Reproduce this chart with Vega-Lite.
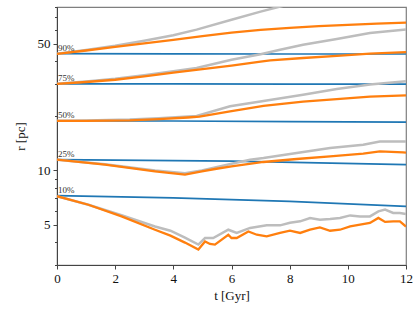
{
  "$schema": "https://vega.github.io/schema/vega-lite/v6.json",
  "width": 349,
  "height": 258,
  "autosize": {"type": "none"},
  "padding": {"left": 57, "top": 7, "right": 10, "bottom": 47},
  "background": "white",
  "config": {
    "view": {"stroke": "#7f7f7f", "strokeWidth": 1.2},
    "font": "Liberation Serif",
    "axis": {
      "labelFont": "Liberation Serif",
      "titleFont": "Liberation Serif",
      "labelFontSize": 13,
      "titleFontSize": 13,
      "titleFontWeight": "normal",
      "labelColor": "#111",
      "titleColor": "#111",
      "domainColor": "#444",
      "tickColor": "#444",
      "grid": false
    }
  },
  "data": {
    "values": [
      {"s": "blue", "p": "90", "t": 0, "r": 44.2}, {"s": "blue", "p": "90", "t": 4, "r": 44.1}, {"s": "blue", "p": "90", "t": 8, "r": 44.0}, {"s": "blue", "p": "90", "t": 12, "r": 44.0},
      {"s": "blue", "p": "75", "t": 0, "r": 30.1}, {"s": "blue", "p": "75", "t": 4, "r": 30.1}, {"s": "blue", "p": "75", "t": 8, "r": 30.0}, {"s": "blue", "p": "75", "t": 12, "r": 30.0},
      {"s": "blue", "p": "50", "t": 0, "r": 18.8}, {"s": "blue", "p": "50", "t": 4, "r": 18.75}, {"s": "blue", "p": "50", "t": 8, "r": 18.6}, {"s": "blue", "p": "50", "t": 12, "r": 18.5},
      {"s": "blue", "p": "25", "t": 0, "r": 11.46}, {"s": "blue", "p": "25", "t": 6, "r": 11.24}, {"s": "blue", "p": "25", "t": 12, "r": 10.75},
      {"s": "blue", "p": "10", "t": 0, "r": 7.25}, {"s": "blue", "p": "10", "t": 4, "r": 7.04}, {"s": "blue", "p": "10", "t": 8, "r": 6.74}, {"s": "blue", "p": "10", "t": 12, "r": 6.33},

      {"s": "gray", "p": "90", "t": 0, "r": 44.1}, {"s": "gray", "p": "90", "t": 1, "r": 46.3}, {"s": "gray", "p": "90", "t": 2, "r": 48.9}, {"s": "gray", "p": "90", "t": 3, "r": 52.1}, {"s": "gray", "p": "90", "t": 4, "r": 55.8}, {"s": "gray", "p": "90", "t": 4.8, "r": 60.0}, {"s": "gray", "p": "90", "t": 6, "r": 68}, {"s": "gray", "p": "90", "t": 7, "r": 75.4}, {"s": "gray", "p": "90", "t": 8, "r": 83}, {"s": "gray", "p": "90", "t": 9, "r": 90}, {"s": "gray", "p": "90", "t": 10, "r": 97}, {"s": "gray", "p": "90", "t": 11, "r": 104}, {"s": "gray", "p": "90", "t": 12, "r": 111},
      {"s": "gray", "p": "75", "t": 0, "r": 30.1}, {"s": "gray", "p": "75", "t": 1, "r": 31.0}, {"s": "gray", "p": "75", "t": 2, "r": 32.1}, {"s": "gray", "p": "75", "t": 2.5, "r": 32.8}, {"s": "gray", "p": "75", "t": 3, "r": 33.6}, {"s": "gray", "p": "75", "t": 4, "r": 35.3}, {"s": "gray", "p": "75", "t": 4.8, "r": 36.8}, {"s": "gray", "p": "75", "t": 6, "r": 40.9}, {"s": "gray", "p": "75", "t": 7, "r": 43.8}, {"s": "gray", "p": "75", "t": 7.67, "r": 46.4}, {"s": "gray", "p": "75", "t": 8.46, "r": 49.5}, {"s": "gray", "p": "75", "t": 9.62, "r": 53.2}, {"s": "gray", "p": "75", "t": 10.76, "r": 57.4}, {"s": "gray", "p": "75", "t": 12, "r": 60.0},
      {"s": "gray", "p": "50", "t": 0, "r": 18.8}, {"s": "gray", "p": "50", "t": 1, "r": 18.9}, {"s": "gray", "p": "50", "t": 2.5, "r": 19.1}, {"s": "gray", "p": "50", "t": 3.5, "r": 19.4}, {"s": "gray", "p": "50", "t": 4.8, "r": 20.0}, {"s": "gray", "p": "50", "t": 5.95, "r": 22.6}, {"s": "gray", "p": "50", "t": 7.1, "r": 24.2}, {"s": "gray", "p": "50", "t": 8.46, "r": 26.2}, {"s": "gray", "p": "50", "t": 9.62, "r": 28.2}, {"s": "gray", "p": "50", "t": 10.76, "r": 29.8}, {"s": "gray", "p": "50", "t": 12, "r": 31.1},
      {"s": "gray", "p": "25", "t": 0, "r": 11.46}, {"s": "gray", "p": "25", "t": 1.65, "r": 10.82}, {"s": "gray", "p": "25", "t": 3.37, "r": 10.0}, {"s": "gray", "p": "25", "t": 4.4, "r": 9.65}, {"s": "gray", "p": "25", "t": 4.98, "r": 10.0}, {"s": "gray", "p": "25", "t": 6.12, "r": 10.99}, {"s": "gray", "p": "25", "t": 6.64, "r": 11.46}, {"s": "gray", "p": "25", "t": 7.1, "r": 11.71}, {"s": "gray", "p": "25", "t": 8.24, "r": 12.48}, {"s": "gray", "p": "25", "t": 9.39, "r": 13.3}, {"s": "gray", "p": "25", "t": 10.53, "r": 13.87}, {"s": "gray", "p": "25", "t": 11.1, "r": 14.46}, {"s": "gray", "p": "25", "t": 12, "r": 14.46},
      {"s": "gray", "p": "10", "t": 0, "r": 7.2}, {"s": "gray", "p": "10", "t": 1.08, "r": 6.46}, {"s": "gray", "p": "10", "t": 2.22, "r": 5.65}, {"s": "gray", "p": "10", "t": 3.37, "r": 4.9}, {"s": "gray", "p": "10", "t": 3.9, "r": 4.64}, {"s": "gray", "p": "10", "t": 4.4, "r": 4.25}, {"s": "gray", "p": "10", "t": 4.86, "r": 3.89}, {"s": "gray", "p": "10", "t": 5.09, "r": 4.23}, {"s": "gray", "p": "10", "t": 5.37, "r": 4.23}, {"s": "gray", "p": "10", "t": 5.89, "r": 4.7}, {"s": "gray", "p": "10", "t": 6.18, "r": 4.51}, {"s": "gray", "p": "10", "t": 6.64, "r": 4.81}, {"s": "gray", "p": "10", "t": 7.21, "r": 4.97}, {"s": "gray", "p": "10", "t": 7.67, "r": 4.97}, {"s": "gray", "p": "10", "t": 8.01, "r": 5.14}, {"s": "gray", "p": "10", "t": 8.36, "r": 5.23}, {"s": "gray", "p": "10", "t": 8.7, "r": 5.46}, {"s": "gray", "p": "10", "t": 9.04, "r": 5.34}, {"s": "gray", "p": "10", "t": 9.39, "r": 5.39}, {"s": "gray", "p": "10", "t": 9.73, "r": 5.46}, {"s": "gray", "p": "10", "t": 10.08, "r": 5.64}, {"s": "gray", "p": "10", "t": 10.42, "r": 5.57}, {"s": "gray", "p": "10", "t": 10.76, "r": 5.57}, {"s": "gray", "p": "10", "t": 11.05, "r": 5.94}, {"s": "gray", "p": "10", "t": 11.28, "r": 6.07}, {"s": "gray", "p": "10", "t": 11.56, "r": 5.82}, {"s": "gray", "p": "10", "t": 11.79, "r": 5.82}, {"s": "gray", "p": "10", "t": 12, "r": 5.74},

      {"s": "orange", "p": "90", "t": 0, "r": 44.1}, {"s": "orange", "p": "90", "t": 1, "r": 46.0}, {"s": "orange", "p": "90", "t": 2, "r": 48.2}, {"s": "orange", "p": "90", "t": 3, "r": 50.4}, {"s": "orange", "p": "90", "t": 4, "r": 52.7}, {"s": "orange", "p": "90", "t": 5, "r": 55.2}, {"s": "orange", "p": "90", "t": 6, "r": 57.7}, {"s": "orange", "p": "90", "t": 7, "r": 59.8}, {"s": "orange", "p": "90", "t": 8, "r": 61.4}, {"s": "orange", "p": "90", "t": 9, "r": 62.7}, {"s": "orange", "p": "90", "t": 10, "r": 63.8}, {"s": "orange", "p": "90", "t": 11, "r": 64.8}, {"s": "orange", "p": "90", "t": 12, "r": 65.5},
      {"s": "orange", "p": "75", "t": 0, "r": 30.1}, {"s": "orange", "p": "75", "t": 1, "r": 30.8}, {"s": "orange", "p": "75", "t": 2, "r": 31.7}, {"s": "orange", "p": "75", "t": 3, "r": 33.1}, {"s": "orange", "p": "75", "t": 4, "r": 34.7}, {"s": "orange", "p": "75", "t": 5, "r": 36.3}, {"s": "orange", "p": "75", "t": 6, "r": 37.9}, {"s": "orange", "p": "75", "t": 7, "r": 39.9}, {"s": "orange", "p": "75", "t": 7.33, "r": 40.6}, {"s": "orange", "p": "75", "t": 8.46, "r": 41.8}, {"s": "orange", "p": "75", "t": 9.62, "r": 43.0}, {"s": "orange", "p": "75", "t": 10.76, "r": 44.2}, {"s": "orange", "p": "75", "t": 12, "r": 45.1},
      {"s": "orange", "p": "50", "t": 0, "r": 18.8}, {"s": "orange", "p": "50", "t": 1, "r": 18.8}, {"s": "orange", "p": "50", "t": 2.5, "r": 18.9}, {"s": "orange", "p": "50", "t": 3.5, "r": 19.2}, {"s": "orange", "p": "50", "t": 4.5, "r": 19.6}, {"s": "orange", "p": "50", "t": 4.9, "r": 19.8}, {"s": "orange", "p": "50", "t": 5.95, "r": 21.2}, {"s": "orange", "p": "50", "t": 7.1, "r": 22.7}, {"s": "orange", "p": "50", "t": 8.46, "r": 24.0}, {"s": "orange", "p": "50", "t": 9.62, "r": 24.8}, {"s": "orange", "p": "50", "t": 10.76, "r": 25.6}, {"s": "orange", "p": "50", "t": 12, "r": 26.0},
      {"s": "orange", "p": "25", "t": 0, "r": 11.46}, {"s": "orange", "p": "25", "t": 1.65, "r": 10.75}, {"s": "orange", "p": "25", "t": 3.37, "r": 9.88}, {"s": "orange", "p": "25", "t": 4.4, "r": 9.47}, {"s": "orange", "p": "25", "t": 4.98, "r": 9.88}, {"s": "orange", "p": "25", "t": 5.43, "r": 10.18}, {"s": "orange", "p": "25", "t": 6.0, "r": 10.52}, {"s": "orange", "p": "25", "t": 7.1, "r": 11.13}, {"s": "orange", "p": "25", "t": 8.24, "r": 11.56}, {"s": "orange", "p": "25", "t": 9.39, "r": 11.95}, {"s": "orange", "p": "25", "t": 10.53, "r": 12.37}, {"s": "orange", "p": "25", "t": 11.1, "r": 12.74}, {"s": "orange", "p": "25", "t": 11.9, "r": 12.58}, {"s": "orange", "p": "25", "t": 12, "r": 12.53},
      {"s": "orange", "p": "10", "t": 0, "r": 7.2}, {"s": "orange", "p": "10", "t": 1.08, "r": 6.46}, {"s": "orange", "p": "10", "t": 2.22, "r": 5.57}, {"s": "orange", "p": "10", "t": 3.37, "r": 4.7}, {"s": "orange", "p": "10", "t": 3.9, "r": 4.36}, {"s": "orange", "p": "10", "t": 4.4, "r": 3.99}, {"s": "orange", "p": "10", "t": 4.86, "r": 3.65}, {"s": "orange", "p": "10", "t": 5.09, "r": 4.05}, {"s": "orange", "p": "10", "t": 5.26, "r": 3.92}, {"s": "orange", "p": "10", "t": 5.43, "r": 3.89}, {"s": "orange", "p": "10", "t": 5.89, "r": 4.41}, {"s": "orange", "p": "10", "t": 6.0, "r": 4.23}, {"s": "orange", "p": "10", "t": 6.18, "r": 4.23}, {"s": "orange", "p": "10", "t": 6.58, "r": 4.6}, {"s": "orange", "p": "10", "t": 6.87, "r": 4.41}, {"s": "orange", "p": "10", "t": 7.21, "r": 4.32}, {"s": "orange", "p": "10", "t": 7.67, "r": 4.51}, {"s": "orange", "p": "10", "t": 8.01, "r": 4.64}, {"s": "orange", "p": "10", "t": 8.36, "r": 4.51}, {"s": "orange", "p": "10", "t": 8.7, "r": 4.7}, {"s": "orange", "p": "10", "t": 9.04, "r": 4.84}, {"s": "orange", "p": "10", "t": 9.39, "r": 4.64}, {"s": "orange", "p": "10", "t": 9.73, "r": 4.7}, {"s": "orange", "p": "10", "t": 10.08, "r": 4.9}, {"s": "orange", "p": "10", "t": 10.42, "r": 5.01}, {"s": "orange", "p": "10", "t": 10.76, "r": 5.12}, {"s": "orange", "p": "10", "t": 11.05, "r": 5.46}, {"s": "orange", "p": "10", "t": 11.28, "r": 5.19}, {"s": "orange", "p": "10", "t": 11.56, "r": 5.23}, {"s": "orange", "p": "10", "t": 11.79, "r": 5.23}, {"s": "orange", "p": "10", "t": 12, "r": 4.89}
    ]
  },
  "encoding": {
    "x": {
      "field": "t", "type": "quantitative",
      "scale": {"domain": [0, 12], "nice": false, "zero": false},
      "axis": {"title": "t [Gyr]", "values": [0, 2, 4, 6, 8, 10, 12], "tickSize": 4, "labelPadding": 3, "titlePadding": 4, "labelFlush": false}
    },
    "y": {
      "field": "r", "type": "quantitative",
      "scale": {"type": "log", "domain": [3, 80], "nice": false},
      "axis": {
        "title": "r [pc]",
        "values": [3, 4, 5, 6, 7, 8, 9, 10, 20, 30, 40, 50, 60, 70, 80],
        "labelExpr": "datum.value == 5 || datum.value == 10 || datum.value == 50 ? datum.value : ''",
        "tickSize": {"condition": {"test": "datum.value == 5 || datum.value == 10 || datum.value == 50", "value": 4}, "value": 2.5},
        "labelPadding": 3,
        "titlePadding": 10,
        "labelFlush": false
      }
    }
  },
  "layer": [
    {
      "transform": [{"filter": "datum.s == 'blue'"}],
      "mark": {"type": "line", "color": "#1f77b4", "strokeWidth": 1.7, "clip": true},
      "encoding": {"detail": {"field": "p"}}
    },
    {
      "transform": [{"filter": "datum.s == 'gray'"}],
      "mark": {"type": "line", "color": "#bdbdbd", "strokeWidth": 2.5, "clip": true},
      "encoding": {"detail": {"field": "p"}}
    },
    {
      "transform": [{"filter": "datum.s == 'orange'"}],
      "mark": {"type": "line", "color": "#ff7f0e", "strokeWidth": 2.3, "clip": true},
      "encoding": {"detail": {"field": "p"}}
    },
    {
      "data": {
        "values": [
          {"t": 0, "r": 44.1, "lab": "90%"},
          {"t": 0, "r": 30.1, "lab": "75%"},
          {"t": 0, "r": 18.8, "lab": "50%"},
          {"t": 0, "r": 11.46, "lab": "25%"},
          {"t": 0, "r": 7.25, "lab": "10%"}
        ]
      },
      "mark": {"type": "text", "align": "left", "baseline": "alphabetic", "dx": 1, "dy": -3, "fontSize": 9, "font": "Liberation Serif", "color": "#333"},
      "encoding": {"text": {"field": "lab"}}
    }
  ]
}
